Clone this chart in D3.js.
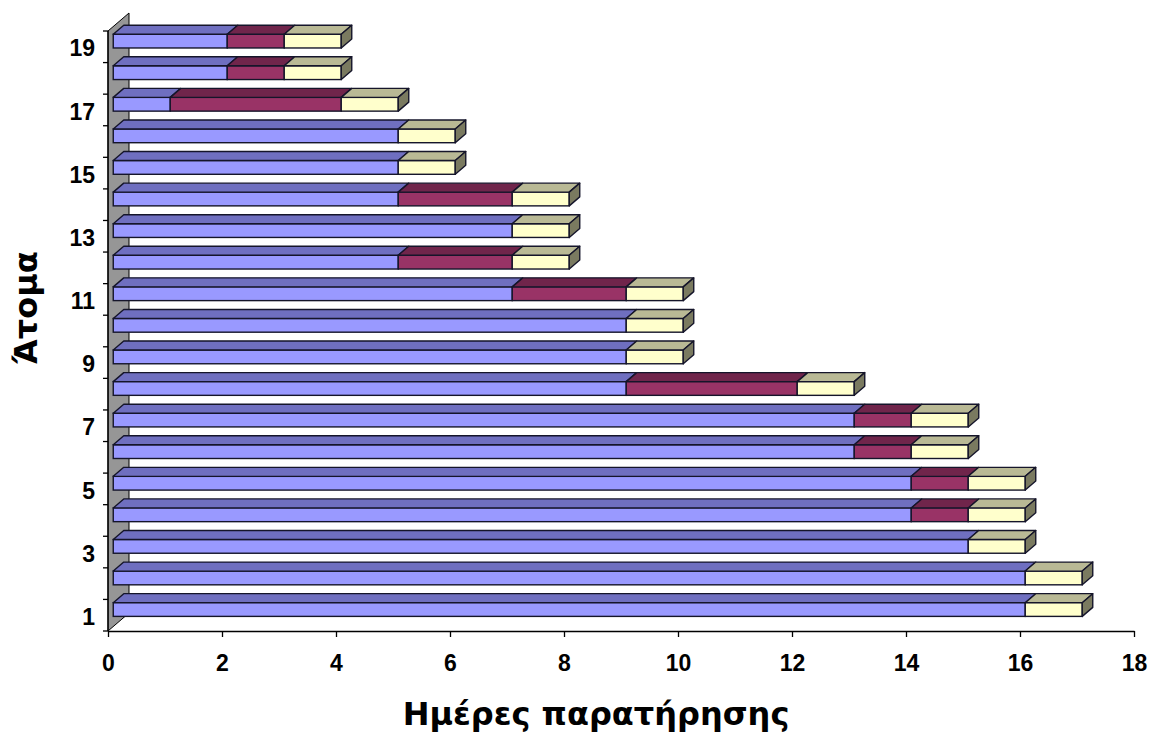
<!DOCTYPE html>
<html>
<head>
<meta charset="utf-8">
<script src="https://cdn.jsdelivr.net/npm/d3@7"></script>
<style>
  html, body { margin: 0; padding: 0; background: #fff; }
  svg { display: block; }
  text { font-family: "Liberation Sans", Arial, sans-serif; font-weight: bold; fill: #000; }
</style>
</head>
<body>
<svg id="chart" width="1154" height="735"></svg>
<script>
// Subjects (Άτομα) and their observation days split into three phases
const categories = d3.range(1, 20).map(String);
const phaseA = [16, 16, 15, 14, 14, 13, 13, 9, 9, 9, 7, 5, 7, 5, 5, 5, 1, 2, 2];
const phaseB = [0, 0, 0, 1, 1, 1, 1, 3, 0, 0, 2, 2, 0, 2, 0, 0, 3, 1, 1];
const phaseC = [1, 1, 1, 1, 1, 1, 1, 1, 1, 1, 1, 1, 1, 1, 1, 1, 1, 1, 1];
const xTicks = [0, 2, 4, 6, 8, 10, 12, 14, 16, 18];
const xTitle = "Ημέρες παρατήρησης";
const yTitle = "Άτομα";

const seriesColors = [
  { front: "#9999ff", top: "#6f6fc0", side: "#4d4d80" },
  { front: "#993366", top: "#70254b", side: "#4d1a33" },
  { front: "#ffffcc", top: "#b9b995", side: "#7a7a60" }
];
const edge = "#15152a";

const svg = d3.select("#chart");

// plot frame (front plane)
const plotL = 108, plotR = 1134, plotB = 631, plotT = 31;
// full depth of the 3D box and the slice the bars occupy
const depth = { dx: 21, dy: -18 };
const barFront = 0.25, barBack = 0.75;

const x = d3.scaleLinear().domain([0, 18]).range([plotL, plotR]);
const y = d3.scaleBand().domain(categories).range([plotB, plotT]).padding(0);

const pts = arr => arr.map(p => p.join(",")).join(" ");

// side wall on the left
const wall = [
  [plotL, plotB], [plotL, plotT],
  [plotL + depth.dx, plotT + depth.dy], [plotL + depth.dx, plotB + depth.dy]
];
svg.append("polygon")
  .attr("points", pts(wall))
  .attr("fill", "#969696")
  .attr("stroke", "#000")
  .attr("stroke-width", 1);

// stacked rows
const rows = categories.map((c, i) => {
  const vals = [phaseA[i], phaseB[i], phaseC[i]];
  let acc = 0;
  const segs = [];
  vals.forEach((v, k) => {
    if (v > 0) segs.push({ k, x0: acc, x1: acc + v });
    acc += v;
  });
  return { c, segs };
});

const fx = depth.dx * barFront, fy = depth.dy * barFront;    // front face offset
const bdx = depth.dx * (barBack - barFront), bdy = depth.dy * (barBack - barFront);
const bandH = y.bandwidth();
const yIn0 = 0.245 * bandH, yIn1 = 0.68 * bandH;              // bar slab within band (front plane)

const g = svg.append("g").attr("class", "bars");
rows.slice().reverse().forEach(row => {
  const yb = y(row.c);
  const yT = yb + yIn0 + fy, yB = yb + yIn1 + fy;
  const rg = g.append("g");
  row.segs.forEach((s, j) => {
    const col = seriesColors[s.k];
    const xa = x(s.x0) + fx, xb = x(s.x1) + fx;
    rg.append("rect")
      .attr("x", xa).attr("y", yT)
      .attr("width", xb - xa).attr("height", yB - yT)
      .attr("fill", col.front).attr("stroke", edge).attr("stroke-width", 1.4);
    rg.append("polygon")
      .attr("points", pts([[xa, yT], [xb, yT], [xb + bdx, yT + bdy], [xa + bdx, yT + bdy]]))
      .attr("fill", col.top).attr("stroke", edge).attr("stroke-width", 1.4)
      .attr("stroke-linejoin", "round");
    if (j === row.segs.length - 1) {
      rg.append("polygon")
        .attr("points", pts([[xb, yT], [xb + bdx, yT + bdy], [xb + bdx, yB + bdy], [xb, yB]]))
        .attr("fill", col.side).attr("stroke", edge).attr("stroke-width", 1.4)
        .attr("stroke-linejoin", "round");
    }
  });
});

// x axis
const xAxis = d3.axisBottom(x).tickValues(xTicks).tickSize(6).tickPadding(18).tickSizeOuter(0);
const gx = svg.append("g").attr("transform", `translate(0,${plotB})`).call(xAxis);
gx.select(".domain").attr("stroke", "#000").attr("stroke-width", 1.3);
gx.selectAll(".tick line").attr("stroke", "#000").attr("stroke-width", 1.3);
gx.selectAll(".tick text").style("font-size", "23px").style("font-family", "Liberation Sans, Arial, sans-serif").style("font-weight", "bold");

// y axis: labels on odd subjects
const yAxis = d3.axisLeft(y).tickSize(0).tickPadding(13)
  .tickFormat(d => (+d % 2 === 1 ? d : ""));
const gy = svg.append("g").attr("transform", `translate(${plotL},0)`).call(yAxis);
gy.select(".domain").remove();
gy.selectAll(".tick text").attr("dy", "0.42em")
  .style("font-size", "23px").style("font-family", "Liberation Sans, Arial, sans-serif").style("font-weight", "bold");

// y axis line and boundary ticks
svg.append("line").attr("x1", plotL).attr("x2", plotL).attr("y1", plotB).attr("y2", plotT)
  .attr("stroke", "#000").attr("stroke-width", 1.3);
const bounds = categories.map(c => y(c)).concat([plotB]);
svg.append("g").selectAll("line").data(bounds).join("line")
  .attr("x1", plotL - 5).attr("x2", plotL).attr("y1", d => d).attr("y2", d => d)
  .attr("stroke", "#000").attr("stroke-width", 1.3);

// axis titles
svg.append("text")
  .attr("x", 596).attr("y", 725)
  .attr("text-anchor", "middle")
  .style("font-family", "DejaVu Sans, Verdana, sans-serif")
  .style("font-size", "32px")
  .text(xTitle);

svg.append("text")
  .attr("transform", "translate(37,308) rotate(-90)")
  .attr("text-anchor", "middle")
  .style("font-family", "DejaVu Sans, Verdana, sans-serif")
  .style("font-size", "32px")
  .text(yTitle);
</script>
</body>
</html>
